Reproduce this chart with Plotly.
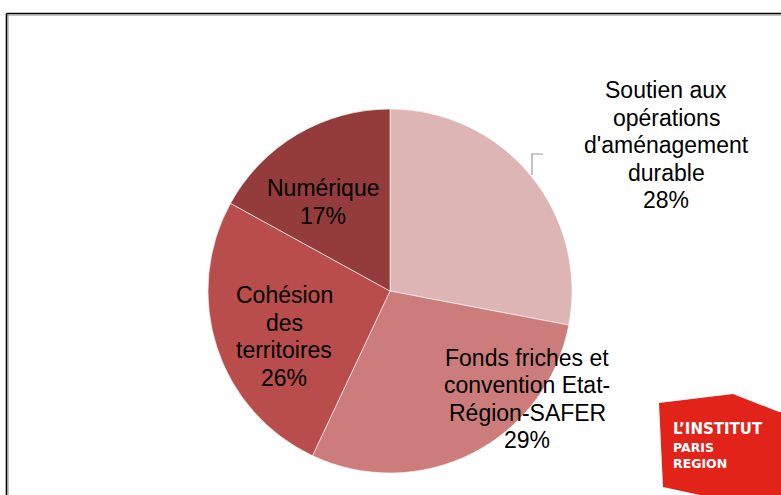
import plotly.graph_objects as go

W, H = 781, 495

categories = ["Soutien aux opérations d'aménagement durable",
              "Fonds friches et convention Etat-Région-SAFER",
              "Cohésion des territoires",
              "Numérique"]
values = [28, 29, 26, 17]
colors = ["#DDB5B5", "#CB7C7B", "#B84D4B", "#943C3C"]
label_lines = [["Soutien aux", "opérations", "d'aménagement", "durable"],
               ["Fonds friches et", "convention Etat-", "Région-SAFER"],
               ["Cohésion", "des", "territoires"],
               ["Numérique"]]
# (x centre, y of first line) in pixels
label_pos = [(666, 90), (527, 357.5), (284, 295), (323, 188)]
LINE_H = 27.6

def px(x):
    return x / W

def py(y):
    return 1 - y / H

fig = go.Figure()
fig.add_trace(go.Pie(
    labels=categories, values=values, sort=False, direction="clockwise",
    rotation=0, marker=dict(colors=colors, line=dict(color="white", width=0.6)),
    textinfo="none", hoverinfo="label+percent", showlegend=False,
    domain=dict(x=[px(208), px(572)], y=[py(473), py(109)]),
))

total = sum(values)
FONT = "Liberation Sans, Arial, sans-serif"
for lines, v, (x, y0) in zip(label_lines, values, label_pos):
    all_lines = lines + [f"{round(100 * v / total)}%"]
    for i, ln in enumerate(all_lines):
        fig.add_annotation(x=px(x), y=py(y0 + i * LINE_H), xref="paper", yref="paper", text=ln,
                           showarrow=False, xanchor="center", yanchor="middle",
                           font=dict(family=FONT, size=23, color="#000000"))

shapes = [
    # leader line
    dict(type="path", path=f"M {px(532)} {py(175)} L {px(532)} {py(154)} L {px(543)} {py(154)}",
         xref="paper", yref="paper", line=dict(color="#9a9a9a", width=1.2)),
    # chart frame
    dict(type="line", x0=px(6.5), x1=1.01, y0=py(13.5), y1=py(13.5), xref="paper", yref="paper",
         line=dict(color="#000000", width=1.6)),
    dict(type="line", x0=px(6.5), x1=1.01, y0=py(15), y1=py(15), xref="paper", yref="paper",
         line=dict(color="#8a8a8a", width=1)),
    dict(type="line", x0=px(6.5), x1=px(6.5), y0=py(13.5), y1=-0.01, xref="paper", yref="paper",
         line=dict(color="#000000", width=1.6)),
    dict(type="line", x0=px(8), x1=px(8), y0=py(15), y1=-0.01, xref="paper", yref="paper",
         line=dict(color="#8a8a8a", width=1)),
    # logo
    dict(type="path",
         path=(f"M {px(659)} {py(403)} L {px(733)} {py(394)} L {px(779)} {py(412)} "
               f"L {px(781)} {py(412)} L {px(781)} {py(495)} L {px(700)} {py(495)} L {px(663)} {py(487)} Z"),
         xref="paper", yref="paper", fillcolor="#E2231A", line=dict(width=0)),
]
fig.update_layout(shapes=shapes)

LOGO_FONT = "DejaVu Sans, sans-serif"
fig.add_annotation(x=px(671), y=py(429), xref="paper", yref="paper", text="<b>L’INSTITUT</b>",
                   showarrow=False, xanchor="left", yanchor="middle",
                   font=dict(family=LOGO_FONT, size=15, color="white"))
fig.add_annotation(x=px(671), y=py(455), xref="paper", yref="paper", text="<b>PARIS<br>REGION</b>",
                   showarrow=False, xanchor="left", yanchor="middle", align="left",
                   font=dict(family=LOGO_FONT, size=12.5, color="white"))

fig.update_layout(width=W, height=H, margin=dict(l=0, r=0, t=0, b=0),
                  paper_bgcolor="white", plot_bgcolor="white")
fig.write_html("out.html", config={"displayModeBar": False},
               post_script="document.body.style.margin='0';document.body.style.overflow='hidden';")
